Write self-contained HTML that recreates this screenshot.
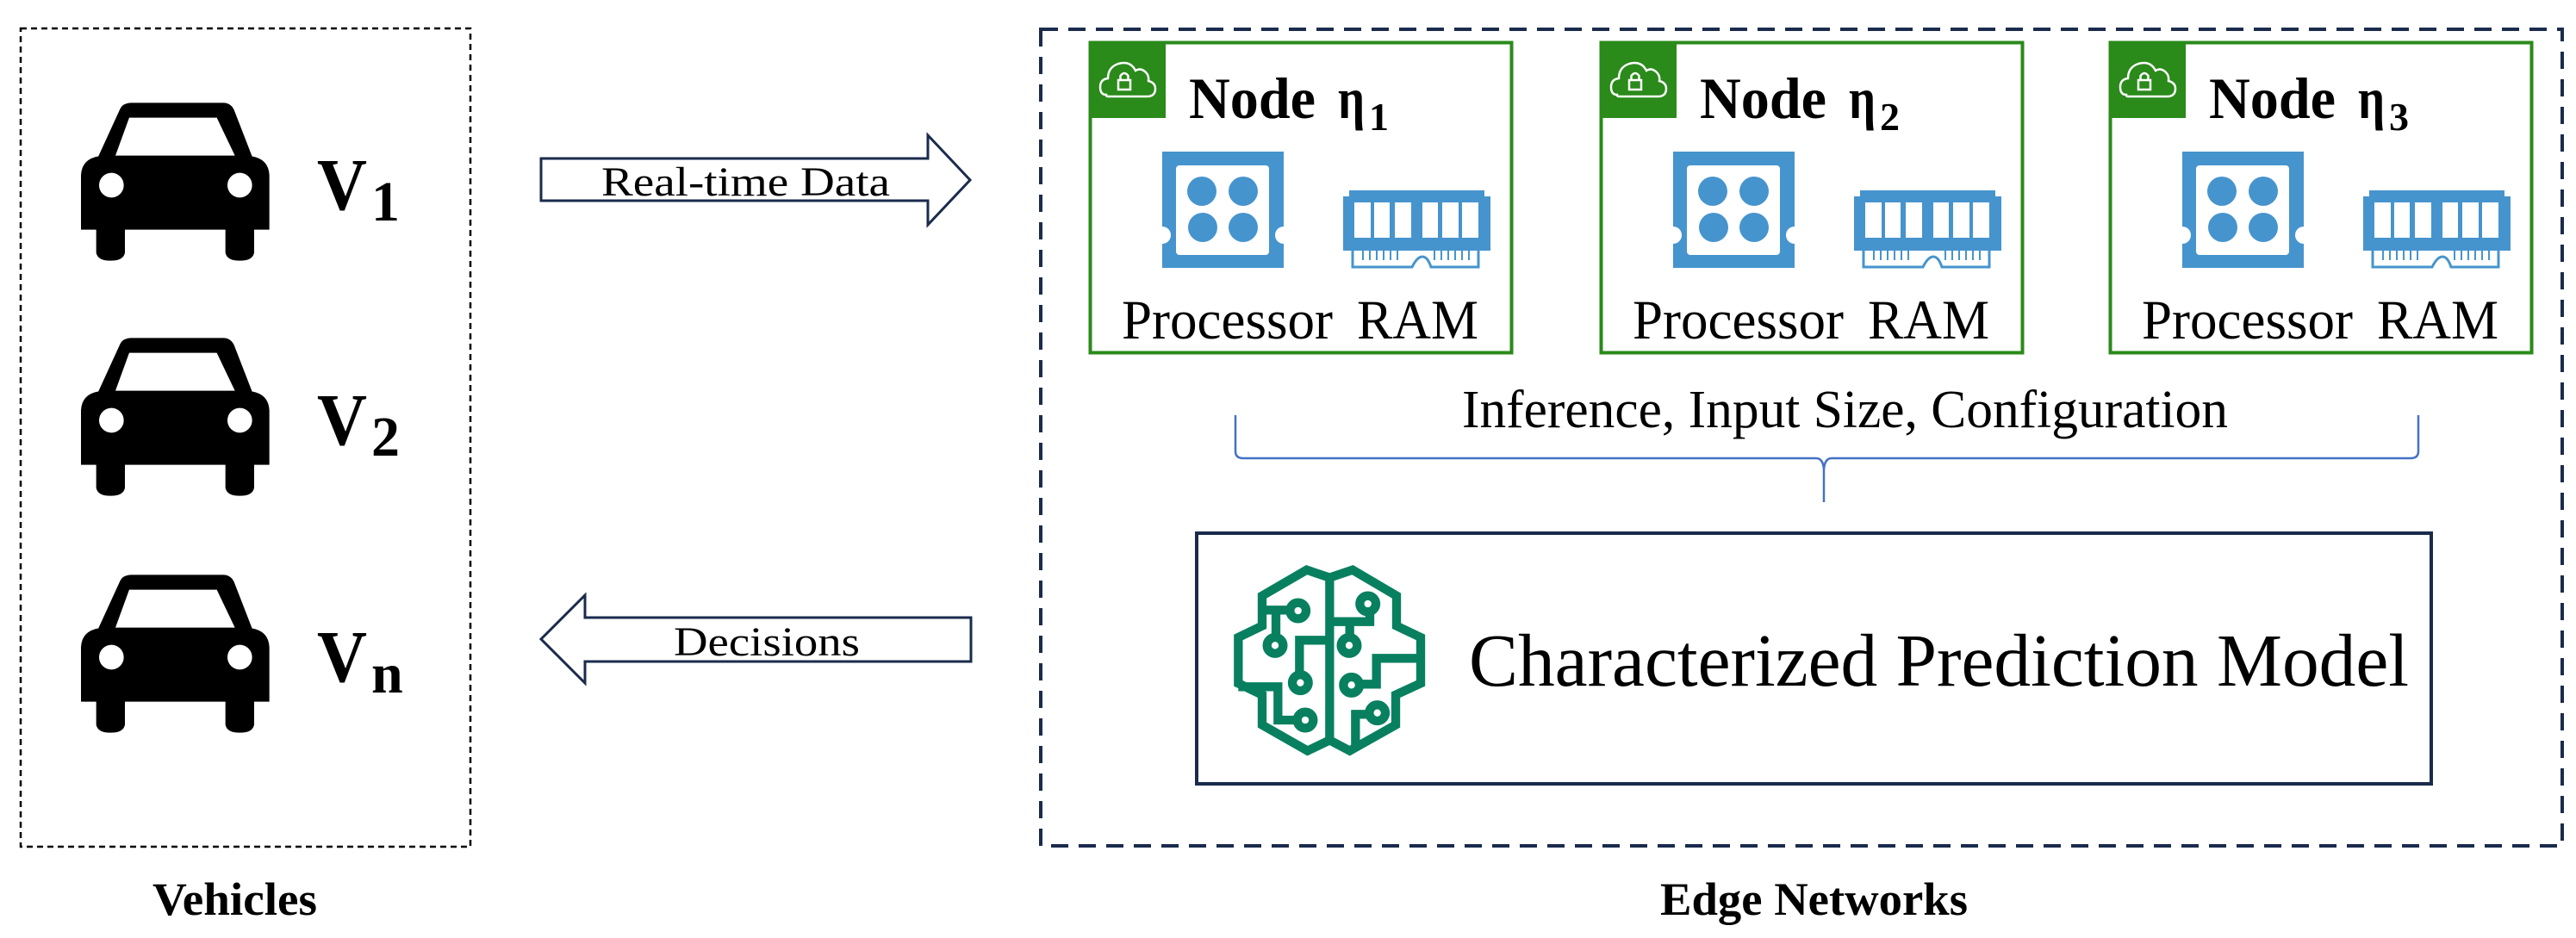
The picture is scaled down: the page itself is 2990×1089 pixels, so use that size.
<!DOCTYPE html>
<html><head><meta charset="utf-8"><style>
html,body{margin:0;padding:0;background:#fff;}
svg{display:block;}
text{font-family:"Liberation Serif",serif;fill:#000;}
</style></head><body>
<svg width="2990" height="1089" viewBox="0 0 2990 1089" xmlns="http://www.w3.org/2000/svg">
<defs>
<g id="car">
 <path d="M100 250 L178 80 Q186 60 215 58 L540 58 Q566 60 576 85 L640 250 Z" fill="#000"/>
 <path d="M210 110 L515 110 L578 242 L162 242 Z" fill="#fff"/>
 <path d="M42 500 L42 310 Q45 255 100 245 L640 245 Q695 255 698 310 L698 500 Z" fill="#000"/>
 <path d="M95 495 L195 495 L195 580 Q190 608 145 608 Q100 608 95 580 Z" fill="#000"/>
 <path d="M545 495 L645 495 L645 580 Q640 608 595 608 Q550 608 545 580 Z" fill="#000"/>
 <circle cx="148" cy="345" r="43" fill="#fff"/>
 <circle cx="595" cy="345" r="43" fill="#fff"/>
</g>
<g id="node">
 <rect x="1.5" y="1.5" width="489" height="360" fill="#fff" stroke="#2a8a1a" stroke-width="4"/>
 <rect x="0" y="0" width="89" height="89" fill="#2a8a1a"/>
 <path d="M20 62 Q13 62 13 53 Q13 44 22 43 Q22 30 34 26 Q48 22 54 34 Q60 30 66 36 Q70 40 69 46 Q77 48 77 55 Q77 63 69 64 L22 64 Q20 64 20 62 Z" fill="none" stroke="#fff" stroke-width="2.5"/>
 <rect x="34" y="45" width="14" height="11" fill="none" stroke="#fff" stroke-width="2.5"/>
 <path d="M36.5 45 L36.5 40 Q41 34 45.5 40 L45.5 45" fill="none" stroke="#fff" stroke-width="2.5"/>
 <!-- chip -->
 <rect x="85" y="128" width="141" height="135" fill="#4694cd"/>
 <rect x="101" y="144" width="108" height="104" rx="4" fill="#fff"/>
 <circle cx="131" cy="174" r="17" fill="#4694cd"/>
 <circle cx="179" cy="174" r="17" fill="#4694cd"/>
 <circle cx="132" cy="216" r="17" fill="#4694cd"/>
 <circle cx="179" cy="216" r="17" fill="#4694cd"/>
 <circle cx="85" cy="225" r="10" fill="#fff"/>
 <circle cx="226" cy="225" r="10" fill="#fff"/>
 <!-- ram -->
 <rect x="302" y="173" width="157" height="10" fill="#4694cd"/>
 <rect x="295" y="180" width="171" height="63" fill="#4694cd"/>
 <g fill="#fff">
  <rect x="308" y="187" width="19" height="41"/><rect x="331" y="187" width="18" height="41"/><rect x="355" y="187" width="19" height="41"/>
  <rect x="387" y="187" width="18" height="41"/><rect x="410" y="187" width="19" height="41"/><rect x="433" y="187" width="19" height="41"/>
 </g>
 <path d="M306 243 L306 262 L375 262 Q381 250 387 250 Q393 250 397 262 L452 262 L452 243" fill="none" stroke="#4694cd" stroke-width="3"/>
 <g stroke="#4694cd" stroke-width="2">
  <line x1="318" y1="243" x2="318" y2="254"/><line x1="326" y1="243" x2="326" y2="254"/><line x1="334" y1="243" x2="334" y2="254"/><line x1="342" y1="243" x2="342" y2="254"/><line x1="350" y1="243" x2="350" y2="254"/><line x1="358" y1="243" x2="358" y2="254"/>
  <line x1="401" y1="243" x2="401" y2="254"/><line x1="409" y1="243" x2="409" y2="254"/><line x1="417" y1="243" x2="417" y2="254"/><line x1="425" y1="243" x2="425" y2="254"/><line x1="433" y1="243" x2="433" y2="254"/><line x1="441" y1="243" x2="441" y2="254"/>
 </g>
 <text x="38" y="345" font-size="65" textLength="245" lengthAdjust="spacingAndGlyphs">Processor</text>
 <text x="311" y="345" font-size="65" textLength="141" lengthAdjust="spacingAndGlyphs">RAM</text>
 <text x="116" y="89" font-size="68" font-weight="bold" textLength="147" lengthAdjust="spacingAndGlyphs">Node</text>
 <text x="289" y="89" font-size="68" font-weight="bold" textLength="31" lengthAdjust="spacingAndGlyphs">η</text>
</g>
</defs>

<!-- Vehicles -->
<rect x="24" y="33" width="522" height="950" fill="none" stroke="#000" stroke-width="2.5" stroke-dasharray="7,5"/>
<use href="#car" transform="translate(80,100) scale(0.3333)"/>
<use href="#car" transform="translate(80,373) scale(0.3333)"/>
<use href="#car" transform="translate(80,648) scale(0.3333)"/>
<text x="368" y="243" font-size="86" font-weight="bold" textLength="58" lengthAdjust="spacingAndGlyphs">V</text>
<text x="431" y="256" font-size="66" font-weight="bold">1</text>
<text x="368" y="516" font-size="86" font-weight="bold" textLength="58" lengthAdjust="spacingAndGlyphs">V</text>
<text x="431" y="529" font-size="66" font-weight="bold">2</text>
<text x="368" y="791" font-size="86" font-weight="bold" textLength="58" lengthAdjust="spacingAndGlyphs">V</text>
<text x="431" y="804" font-size="66" font-weight="bold">n</text>
<text x="177" y="1062" font-size="54" font-weight="bold" textLength="191" lengthAdjust="spacingAndGlyphs">Vehicles</text>

<!-- arrows -->
<path d="M628 184 L1077 184 L1077 157 L1126 209 L1077 261 L1077 233 L628 233 Z" fill="#fff" stroke="#1a2b4c" stroke-width="3"/>
<text x="698" y="227" font-size="48" textLength="335" lengthAdjust="spacingAndGlyphs">Real-time Data</text>
<path d="M1127 717 L679 717 L679 691 L628 742 L679 793 L679 768 L1127 768 Z" fill="#fff" stroke="#1a2b4c" stroke-width="3"/>
<text x="782" y="761" font-size="48" textLength="216" lengthAdjust="spacingAndGlyphs">Decisions</text>

<!-- Edge networks -->
<rect x="1208" y="34" width="1766" height="948" fill="none" stroke="#1a2b4c" stroke-width="4" stroke-dasharray="20,12"/>
<use href="#node" transform="translate(1264,48)"/>
<use href="#node" transform="translate(1857,48)"/>
<use href="#node" transform="translate(2448,48)"/>
<text x="1589" y="151" font-size="46" font-weight="bold">1</text>
<text x="2182" y="151" font-size="46" font-weight="bold">2</text>
<text x="2773" y="151" font-size="46" font-weight="bold">3</text>

<text x="1697" y="496" font-size="62" textLength="889" lengthAdjust="spacingAndGlyphs">Inference, Input Size, Configuration</text>
<path d="M1434 482 L1434 524 Q1434 532 1443 532 L2108 532 Q2116 532 2117 545 L2117 583 M2117 545 Q2118 532 2126 532 L2798 532 Q2807 532 2807 524 L2807 482" fill="none" stroke="#4472c4" stroke-width="2.5"/>

<rect x="1389" y="619" width="1433" height="291" fill="#fff" stroke="#1a2b4c" stroke-width="4"/>
<g transform="translate(1350,580) scale(0.33333)" fill="none" stroke="#08805f" stroke-width="31" stroke-linejoin="miter">
 <path d="M580 272 L500 245 L345 335 L345 440 L262 480 L262 640 L345 680 L345 785 L503 875 L580 838"/>
 <path d="M580 272 L660 245 L813 335 L813 440 L897 480 L897 640 L810 680 L810 785 L650 875 L580 838"/>
 <line x1="580" y1="272" x2="580" y2="838"/>
 <path d="M345 385 L442 385"/><path d="M393 385 L393 478"/>
 <path d="M580 490 L475 490 L475 608"/>
 <path d="M262 652 L400 652 L400 768 L465 768"/>
 <path d="M580 425 L720 425 L720 392"/><path d="M650 425 L650 478"/>
 <path d="M897 553 L743 553 L743 643 L686 643"/>
 <path d="M670 858 L670 748 L716 748"/>
 <circle cx="470" cy="387" r="28"/><circle cx="390" cy="508" r="28"/>
 <circle cx="478" cy="638" r="28"/><circle cx="495" cy="768" r="28"/>
 <circle cx="713" cy="363" r="28"/><circle cx="648" cy="508" r="28"/>
 <circle cx="656" cy="646" r="28"/><circle cx="746" cy="743" r="28"/>
</g>
<text x="1705" y="796" font-size="87" textLength="1091" lengthAdjust="spacingAndGlyphs">Characterized Prediction Model</text>

<text x="1927" y="1062" font-size="54" font-weight="bold" textLength="357" lengthAdjust="spacingAndGlyphs">Edge Networks</text>
</svg>
</body></html>
